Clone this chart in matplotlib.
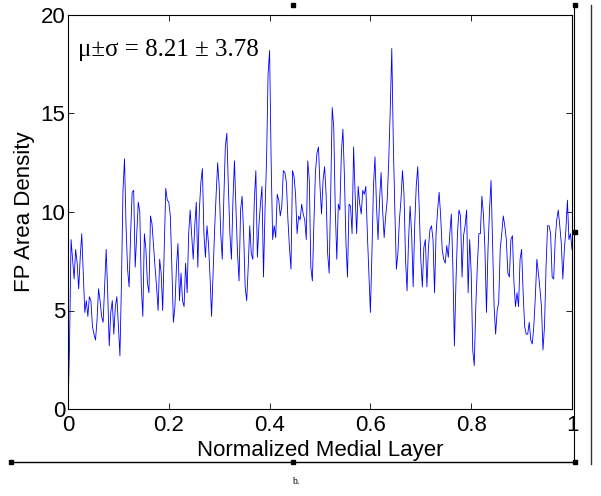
import numpy as np
import matplotlib.pyplot as plt
from matplotlib.lines import Line2D

# FP area density, left to right, in 7 chunks
seg1 = [0.0, 3.2, 8.6, 7.6, 6.6, 8.1, 7.4, 6.1, 7.7, 8.9, 6.9, 4.9, 5.5, 4.7, 5.7, 5.5,
        4.2, 3.8, 3.5, 4.5, 6.1, 5.5, 4.7, 4.4, 6.2, 8.1, 5.9, 3.2, 4.9, 5.5, 3.8, 5.2,
        5.7, 4.2, 2.7, 6.4, 11.1, 12.7, 9.3, 7.1, 6.2, 8.9, 11.0, 11.1, 7.2, 8.9, 10.5, 10.0]
seg2 = [6.2, 4.7, 8.9, 8.1, 6.4, 5.9, 9.8, 9.4, 8.3, 7.2, 6.2, 5.0, 7.6, 6.9, 5.0, 8.1,
        11.2, 10.6, 10.5, 9.8, 7.2, 4.4, 5.2, 7.2, 8.4, 5.5, 6.9, 5.5, 5.2, 7.4, 5.9, 8.9,
        10.1, 8.8, 7.6, 9.3, 10.5, 7.2, 10.1, 11.5, 12.2, 8.9, 7.7, 9.3]
seg3 = [8.4, 6.7, 4.7, 6.9, 9.1, 10.9, 12.5, 11.3, 8.9, 7.6, 10.6, 13.3, 14.0, 11.3, 8.9, 7.6,
        10.6, 12.6, 10.1, 7.9, 6.5, 10.1, 10.8, 8.9, 6.2, 5.5, 7.2, 9.3, 7.9, 7.6, 10.6, 12.1,
        7.7, 9.3, 10.4, 11.3, 6.7, 10.1, 12.6, 17.0, 18.2, 12.6, 8.6, 9.3, 8.7, 10.9, 10.6, 9.8,
        10.3, 12.1]
seg4 = [12.0, 11.5, 9.6, 8.2, 7.1, 12.1, 11.8, 10.9, 8.9, 9.8, 9.6, 10.4, 9.9, 9.6, 8.6, 12.6,
        11.6, 7.2, 6.5, 9.4, 12.0, 13.0, 13.3, 11.3, 9.9, 11.6, 12.3, 10.9, 7.9, 6.9, 10.9, 15.3,
        14.3, 10.1, 7.6, 10.4, 10.1, 13.0, 14.2, 11.8, 8.4, 6.7, 10.4, 10.3, 8.9, 13.3]
seg5 = [10.9, 8.9, 11.3, 10.4, 9.9, 11.1, 10.9, 11.3, 8.9, 6.9, 4.9, 7.9, 11.3, 12.8, 10.3, 8.6,
        10.6, 12.0, 10.1, 8.7, 9.8, 10.6, 12.6, 15.2, 18.3, 13.5, 10.1, 7.1, 7.9, 9.6, 10.6, 12.1,
        10.9, 7.6, 6.0, 8.6, 10.3, 8.9, 6.2, 9.3, 11.3, 12.3, 10.1, 7.6, 6.2, 8.2, 8.6, 6.2,
        8.2, 9.1]
seg6 = [9.3, 8.6, 5.9, 8.9, 10.1, 11.0, 9.8, 8.1, 7.6, 7.4, 8.3, 7.7, 8.9, 9.9, 7.2, 3.2,
        6.4, 8.9, 10.1, 9.8, 6.7, 8.8, 9.3, 10.1, 5.9, 8.6, 6.9, 3.0, 2.2, 5.2, 7.2, 8.9,
        8.9, 10.8, 9.9, 8.1, 4.9, 8.1, 10.1, 11.6, 8.4, 5.2, 3.8, 5.0, 5.4, 8.1]
seg7 = [8.9, 9.8, 9.3, 8.6, 6.9, 6.7, 8.6, 8.8, 6.4, 5.2, 5.9, 5.2, 7.6, 8.1, 5.9, 4.2,
        3.8, 3.8, 4.4, 3.5, 3.3, 4.2, 5.7, 7.6, 6.9, 6.1, 5.2, 3.0, 4.2, 7.2, 9.3, 9.3,
        8.9, 6.7, 6.6, 8.6, 9.6, 10.1, 9.3, 8.4, 6.6, 8.1, 9.1, 10.6, 8.6, 8.9, 8.1]

x_ticks = [0, 0.2, 0.4, 0.6, 0.8, 1]
x_labels = ['0', '0.2', '0.4', '0.6', '0.8', '1']
y_ticks = [0, 5, 10, 15, 20]
stats_text = '\u03bc\u00b1\u03c3 = 8.21 \u00b1 3.78'

density = np.array(seg1 + seg2 + seg3 + seg4 + seg5 + seg6 + seg7)
pos = np.linspace(0, 1, len(density))

plt.rcParams['font.family'] = ['Liberation Sans', 'DejaVu Sans']

W, H = 601, 496
fig = plt.figure(figsize=(W / 100, H / 100), dpi=100)
ax = fig.add_axes([68 / W, 1 - 409 / H, (572 - 68) / W, (409 - 15) / H])

ax.plot(pos, density, color='#0000ff', lw=0.6)
ax.set_xlim(0, 1)
ax.set_ylim(0, 20)
ax.set_xticks(x_ticks)
ax.set_xticklabels(x_labels)
ax.set_yticks(y_ticks)
ax.tick_params(direction='in', top=True, right=True, length=4, width=0.6,
               labelsize=16, pad=2)
ax.tick_params(axis='x', pad=4)
for s in ax.spines.values():
    s.set_linewidth(0.8)
ax.set_xlabel('Normalized Medial Layer', fontsize=16, labelpad=3)
ax.set_ylabel('FP Area Density', fontsize=16, labelpad=4)

ax.text(0.02, 18.2, stats_text, va='center', ha='left', fontsize=18,
        family=['Liberation Serif', 'DejaVu Serif'])

# document resize handles around the picture
def fx(px):
    return px / W

def fy(py):
    return 1 - py / H

fig.add_artist(Line2D([fx(11), fx(575)], [fy(462), fy(462)], color='black', lw=1.0))
fig.add_artist(Line2D([fx(574), fx(574)], [fy(5), fy(462)], color='black', lw=0.8))
fig.add_artist(Line2D([fx(591), fx(591)], [fy(5), fy(464)], color='#333333', lw=1.0))
hx = [11, 293, 575, 575, 575, 293]
hy = [462, 462, 462, 232, 5, 5]
fig.add_artist(Line2D([fx(v) for v in hx], [fy(v) for v in hy], ls='none',
                      marker='s', ms=3, color='black'))

fig.text(fx(296), fy(481), 'b.', ha='center', va='center', fontsize=7,
         family=['Liberation Serif', 'DejaVu Serif'])

fig.savefig('out.png', dpi=100)
